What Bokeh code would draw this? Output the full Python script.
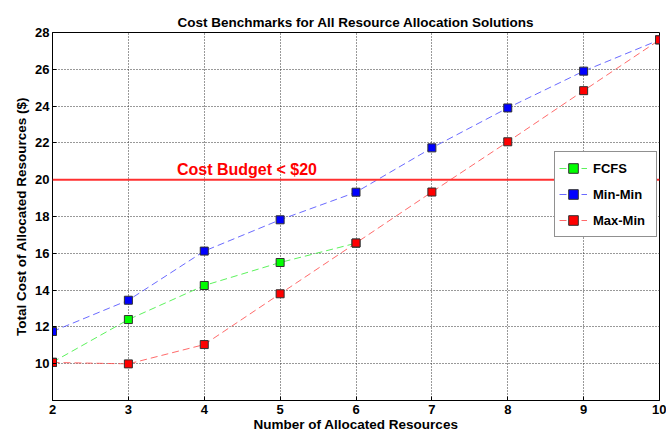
from bokeh.plotting import figure
from bokeh.models import FixedTicker, Span, Label, Legend, LegendItem
from bokeh.embed import file_html
from bokeh.resources import INLINE

# ---- data ----
resources = [2, 3, 4, 5, 6, 7, 8, 9, 10]
fcfs_x = [2, 3, 4, 5, 6]
fcfs = [10.08, 12.40, 14.25, 15.50, 16.55]
min_min = [11.75, 13.45, 16.12, 17.82, 19.32, 21.73, 23.90, 25.90, 27.60]
max_min = [10.07, 9.99, 11.04, 13.80, 16.56, 19.33, 22.06, 24.84, 27.60]
budget = 20
y_ticks = [10, 12, 14, 16, 18, 20, 22, 24, 26, 28]

FONT = "Liberation Sans"

p = figure(width=666, height=436, x_range=(2, 10), y_range=(8, 28),
           output_backend="svg", toolbar_location=None,
           title="Cost Benchmarks for All Resource Allocation Solutions",
           min_border_left=52, min_border_right=7, min_border_top=32,
           min_border_bottom=36)

p.title.align = "center"
p.title.text_font = FONT
p.title.text_font_size = "13.5px"
p.title.text_font_style = "bold"
p.title.text_color = "black"
p.title.standoff = 6

p.outline_line_color = "black"
p.outline_line_width = 1

for ax in (p.xaxis[0], p.yaxis[0]):
    ax.major_label_text_font = FONT
    ax.major_label_text_font_size = "13px"
    ax.major_label_text_font_style = "bold"
    ax.major_label_text_color = "black"
    ax.axis_label_text_font = FONT
    ax.axis_label_text_font_size = "13.5px"
    ax.axis_label_text_font_style = "bold"
    ax.axis_label_text_color = "black"
    ax.major_tick_in = 4
    ax.major_tick_out = 0
    ax.minor_tick_in = 0
    ax.minor_tick_out = 0
    ax.axis_line_color = "black"
    ax.major_tick_line_color = "black"

p.xaxis.ticker = FixedTicker(ticks=resources)
p.yaxis.ticker = FixedTicker(ticks=y_ticks)
p.xaxis.axis_label = "Number of Allocated Resources"
p.yaxis.axis_label = "Total Cost of Allocated Resources ($)"
p.xaxis.major_label_standoff = 4
p.xaxis.axis_label_standoff = 0
p.yaxis.major_label_standoff = 3
p.yaxis.axis_label_standoff = 3

for g in (p.xgrid[0], p.ygrid[0]):
    g.grid_line_color = "#333333"
    g.grid_line_dash = "1 2"
    g.grid_line_width = 1

p.add_layout(Span(location=budget, dimension="width", line_color="#ff3030",
                  line_width=2))
p.add_layout(Label(x=3.64, y=budget, y_offset=10, text="Cost Budget < $20",
                   text_font=FONT, text_font_size="16px",
                   text_font_style="bold", text_color="#ff0000",
                   text_baseline="alphabetic"))

series = [
    ("FCFS", fcfs_x, fcfs, "#40f040", "#00ff00"),
    ("Min-Min", resources, min_min, "#5050ff", "#0000ff"),
    ("Max-Min", resources, max_min, "#ff5050", "#ff0000"),
]
items = []
for name, xs, ys, lc, mc in series:
    r1 = p.line(xs, ys, line_color=lc, line_width=1, line_dash="7 4",
                line_alpha=0.85)
    r2 = p.scatter(xs, ys, marker="square", size=8, fill_color=mc,
                   line_color="#303030", line_width=1)
    items.append(LegendItem(label=name, renderers=[r1, r2]))

legend = Legend(items=items, location=(502, 163), border_line_color="#222222",
                border_line_width=1, background_fill_alpha=1,
                label_text_font=FONT, label_text_font_size="13px",
                label_text_font_style="bold", label_text_color="black",
                padding=4, spacing=2, glyph_width=28, glyph_height=24,
                label_height=24, label_standoff=6, label_width=59, margin=0)
p.add_layout(legend)

open("out.html", "w").write(file_html(p, INLINE))
